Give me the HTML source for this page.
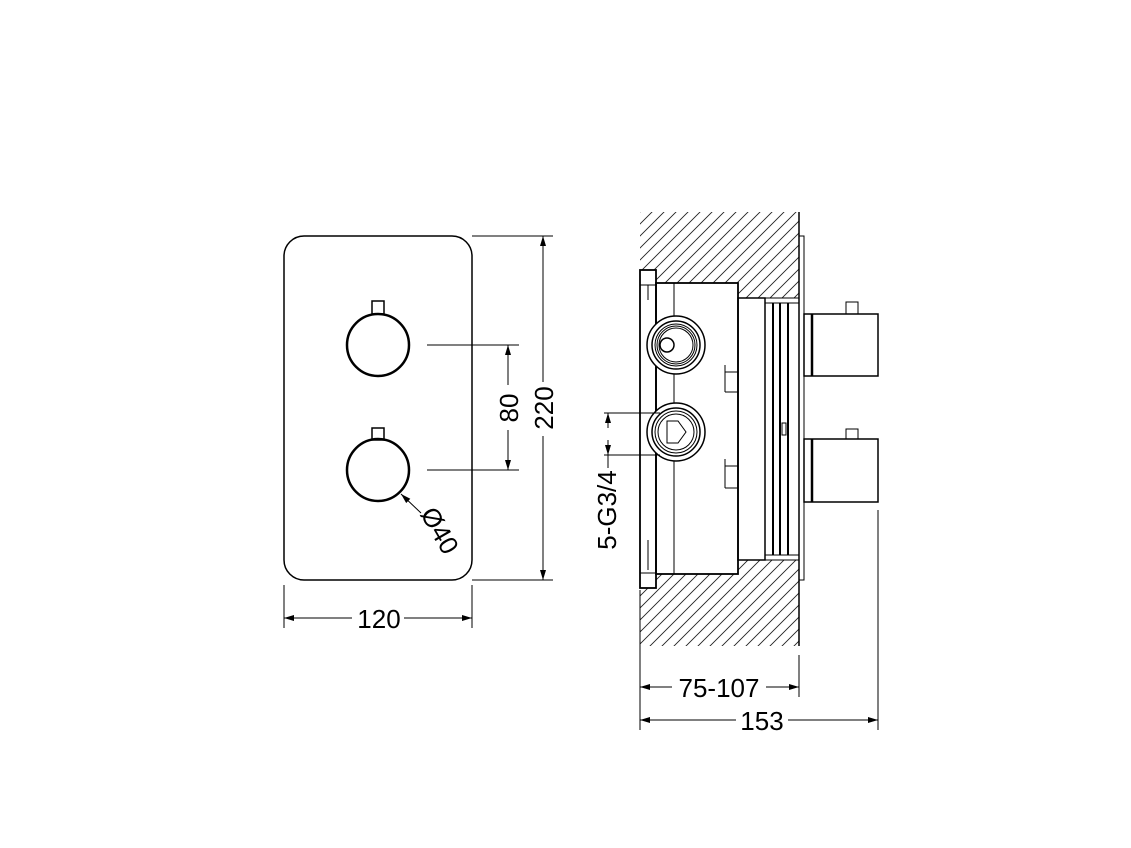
<!DOCTYPE html>
<html><head><style>html,body{margin:0;padding:0;background:#fff}svg{display:block}</style></head>
<body>
<svg width="1131" height="848" viewBox="0 0 1131 848" xmlns="http://www.w3.org/2000/svg" font-family="Liberation Sans, sans-serif">
<defs>
<pattern id="h" width="12" height="12" patternUnits="userSpaceOnUse">
<path d="M-3,3 L3,-3 M0,12 L12,0 M9,15 L15,9" stroke="#222" stroke-width="0.9"/>
</pattern>
<marker id="a" viewBox="0 0 10 6" refX="10" refY="3" markerWidth="11" markerHeight="6" orient="auto-start-reverse" markerUnits="userSpaceOnUse"><path d="M0,0 L10,3 L0,6 z" fill="#000"/></marker>
</defs>
<g fill="none" stroke="#000" stroke-width="1">
<rect x="284" y="236" width="188" height="344" rx="20" stroke-width="1.5"/>
<circle cx="378" cy="345" r="31" stroke-width="2.5"/>
<rect x="372" y="301" width="12" height="13" stroke-width="1.5"/>
<circle cx="378" cy="470" r="31" stroke-width="2.5"/>
<rect x="372" y="428" width="12" height="12" stroke-width="1.5"/>
<line x1="427" y1="345" x2="519" y2="345"/>
<line x1="427" y1="470" x2="519" y2="470"/>
<line x1="508" y1="385" x2="508" y2="345" marker-end="url(#a)"/>
<line x1="508" y1="430" x2="508" y2="470" marker-end="url(#a)"/>
<line x1="472" y1="236" x2="553" y2="236"/>
<line x1="472" y1="580" x2="553" y2="580"/>
<line x1="543" y1="382" x2="543" y2="236" marker-end="url(#a)"/>
<line x1="543" y1="436" x2="543" y2="580" marker-end="url(#a)"/>
<line x1="284" y1="585" x2="284" y2="628"/>
<line x1="472" y1="585" x2="472" y2="628"/>
<line x1="352" y1="618" x2="284" y2="618" marker-end="url(#a)"/>
<line x1="404" y1="618" x2="472" y2="618" marker-end="url(#a)"/>
<line x1="421" y1="513" x2="401" y2="494" marker-end="url(#a)"/>

<path d="M640,212 H799 V298 H738 V283 H656 V270 H640 Z" fill="url(#h)" stroke="none"/>
<path d="M640,588 H656 V574 H738 V560 H799 V646 H640 Z" fill="url(#h)" stroke="none"/>
<line x1="799" y1="212" x2="799" y2="646" stroke-width="1.5"/>
<rect x="799" y="236" width="5" height="344"/>
<rect x="640" y="270" width="16" height="318" stroke-width="1.8"/>
<rect x="656" y="283" width="82" height="291" stroke-width="1.8"/>
<line x1="674" y1="283" x2="674" y2="574"/>
<line x1="648" y1="285" x2="648" y2="300"/>
<line x1="640" y1="285" x2="656" y2="285"/>
<line x1="640" y1="573" x2="656" y2="573"/>
<line x1="648" y1="540" x2="648" y2="570"/>
<rect x="738" y="298" width="27" height="262" stroke-width="1.5"/>
<rect x="765" y="298" width="34" height="262"/>
<line x1="765" y1="303" x2="799" y2="303"/>
<line x1="765" y1="555" x2="799" y2="555"/>
<line x1="773" y1="303" x2="773" y2="555" stroke-width="2"/>
<line x1="780" y1="303" x2="780" y2="555" stroke-width="2"/>
<line x1="788" y1="303" x2="788" y2="555" stroke-width="2"/>
<rect x="782" y="423" width="4" height="12"/>
<path d="M738,372 H725 M725,365 V392 M725,392 H738"/>
<path d="M738,466 H725 M725,459 V488 M725,488 H738"/>
<circle cx="676" cy="345" r="29" stroke-width="1.5" fill="#fff"/>
<circle cx="676" cy="345" r="24" stroke-width="1.5"/>
<circle cx="676" cy="345" r="21"/>
<circle cx="676" cy="345" r="19"/>
<circle cx="676" cy="345" r="17"/>
<circle cx="667" cy="345" r="7" stroke-width="1.5"/>
<circle cx="676" cy="432" r="29" stroke-width="1.5" fill="#fff"/>
<circle cx="676" cy="432" r="24" stroke-width="1.5"/>
<circle cx="676" cy="432" r="21"/>
<circle cx="676" cy="432" r="18"/>
<path d="M667,421 H678 L686,432 L678,443 H667 Z"/>
<line x1="674" y1="374" x2="674" y2="403"/>
<rect x="804" y="314" width="74" height="62" stroke-width="1.5"/>
<line x1="812" y1="314" x2="812" y2="376" stroke-width="2.5"/>
<rect x="846" y="302" width="12" height="12"/>
<rect x="804" y="439" width="74" height="63" stroke-width="1.5"/>
<line x1="812" y1="439" x2="812" y2="502" stroke-width="2.5"/>
<rect x="846" y="429" width="12" height="10"/>
<line x1="604" y1="413" x2="660" y2="413"/>
<line x1="604" y1="455" x2="660" y2="455"/>
<line x1="608" y1="428" x2="608" y2="413" marker-end="url(#a)"/>
<line x1="608" y1="440" x2="608" y2="455" marker-end="url(#a)"/>
<line x1="608" y1="455" x2="608" y2="468"/>
<line x1="640" y1="590" x2="640" y2="730"/>
<line x1="799" y1="655" x2="799" y2="697"/>
<line x1="878" y1="510" x2="878" y2="730"/>
<line x1="672" y1="687" x2="640" y2="687" marker-end="url(#a)"/>
<line x1="766" y1="687" x2="799" y2="687" marker-end="url(#a)"/>
<line x1="736" y1="720" x2="640" y2="720" marker-end="url(#a)"/>
<line x1="788" y1="720" x2="878" y2="720" marker-end="url(#a)"/>
</g>
<g font-size="26" fill="#000" text-anchor="middle">
<text x="379" y="628">120</text>
<text transform="translate(518,408) rotate(-90)">80</text>
<text transform="translate(553,408) rotate(-90)">220</text>
<text transform="translate(432,535) rotate(60)">Ø40</text>
<text transform="translate(616,510) rotate(-90)">5-G3/4</text>
<text x="719" y="697">75-107</text>
<text x="762" y="730">153</text>
</g>
</svg>
</body></html>
